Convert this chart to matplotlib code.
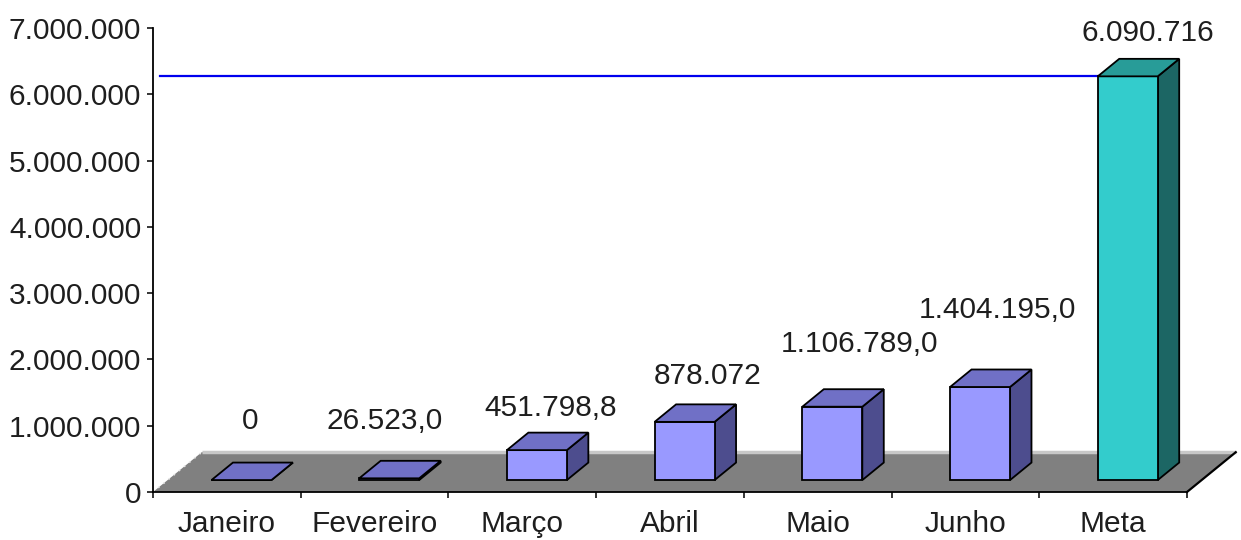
import numpy as np
import matplotlib.pyplot as plt
from matplotlib.patches import Polygon
from matplotlib.ticker import FuncFormatter, FixedLocator

plt.rcParams["font.family"] = ["Liberation Sans", "DejaVu Sans"]

months = ["Janeiro", "Fevereiro", "Março", "Abril", "Maio", "Junho", "Meta"]
values = [0, 26523.0, 451798.8, 878072, 1106789.0, 1404195.0, 6090716]
decimals = [0, 1, 1, 0, 1, 1, 0]

# per-label nudge of the value captions, in pixels (x, y)
label_nudge = [(-2, 42), (-15, 40), (3, 25), (12, 28), (16, 45), (7, 59), (9, 26)]

# fake-3D geometry: full floor depth expressed in axis units
DEPTH_X = 0.33
DEPTH_Y = 0.60e6
BAR_W = 0.406
BAR_D0, BAR_D1 = 0.30, 0.74

FACE = {"front": "#9999FF", "top": "#7070C6", "side": "#4D4D8E"}
META_FACE = {"front": "#33CCCC", "top": "#289C98", "side": "#1C6664"}
TEXT = "#1E1E1E"
FS = 21.5


def proj(x, d, v):
    return (x + d * DEPTH_X, v + d * DEPTH_Y)


def thousands(v, nd=0):
    s = f"{v:,.{nd}f}"
    return s.replace(",", "#").replace(".", ",").replace("#", ".")


def draw_bar(ax, i, v, colors):
    x0 = i - BAR_W / 2
    x1 = i + BAR_W / 2
    kw = dict(edgecolor="black", linewidth=1.3, joinstyle="miter", clip_on=False)
    front = [proj(x0, BAR_D0, 0), proj(x1, BAR_D0, 0), proj(x1, BAR_D0, v), proj(x0, BAR_D0, v)]
    side = [proj(x1, BAR_D0, 0), proj(x1, BAR_D1, 0), proj(x1, BAR_D1, v), proj(x1, BAR_D0, v)]
    top = [proj(x0, BAR_D0, v), proj(x1, BAR_D0, v), proj(x1, BAR_D1, v), proj(x0, BAR_D1, v)]
    ax.add_patch(Polygon(side, closed=True, facecolor=colors["side"], zorder=4, **kw))
    ax.add_patch(Polygon(front, closed=True, facecolor=colors["front"], zorder=5, **kw))
    ax.add_patch(Polygon(top, closed=True, facecolor=colors["top"], zorder=6, **kw))
    # caption anchor: horizontal middle of the whole block, at the top-back edge
    return (i + DEPTH_X * (BAR_D0 + BAR_D1) / 2, v + BAR_D1 * DEPTH_Y)


fig = plt.figure(figsize=(12.41, 5.40), dpi=100)
ax = fig.add_axes([153 / 1241, 48 / 540, 1034 / 1241, 464 / 540])
n = len(months)
ax.set_xlim(-0.5, n - 0.5)
ax.set_ylim(0, 7e6)

# floor
floor = [proj(-0.5, 0, 0), proj(n - 0.5, 0, 0), proj(n - 0.5, 1, 0), proj(-0.5, 1, 0)]
ax.add_patch(Polygon(floor, closed=True, facecolor="#808080", edgecolor="none",
                     zorder=1, clip_on=False))
bx, by = zip(proj(-0.5, 1, 0), proj(n - 0.5, 1, 0))
ax.plot(bx, by, color="#C8C8C8", lw=2.5, zorder=2, clip_on=False, solid_capstyle="butt")
lx, ly = zip(proj(-0.5, 0, 0), proj(-0.5, 1, 0))
ax.plot(lx, ly, color="#E6E6E6", lw=1.2, ls=(0, (1, 3)), zorder=2, clip_on=False)
rx, ry = zip(proj(n - 0.5, 0, 0), proj(n - 0.5, 1, 0))
ax.plot(rx, ry, color="black", lw=1.6, zorder=2, clip_on=False)

# target line running to the front-top corner of the last bar
meta_x, meta_y = proj(n - 1 - BAR_W / 2, BAR_D0, values[-1])
ax.plot([-0.45, meta_x], [meta_y, meta_y], color="#0000EE", lw=1.6, zorder=3)

for i, v in enumerate(values):
    colors = META_FACE if i == n - 1 else FACE
    axx, ayy = draw_bar(ax, i, v, colors)
    dx, dy = label_nudge[i]
    ax.annotate(thousands(v, decimals[i]), (axx, ayy), xytext=(dx, dy),
                textcoords="offset pixels", ha="center", va="center",
                fontsize=FS, color=TEXT, zorder=7, annotation_clip=False)

# axes styling
for side in ("top", "right"):
    ax.spines[side].set_visible(False)
for side in ("left", "bottom"):
    ax.spines[side].set_linewidth(1.3)
    ax.spines[side].set_zorder(8)

ax.yaxis.set_major_locator(FixedLocator(np.arange(0, 7.5e6, 1e6)))
ax.yaxis.set_major_formatter(FuncFormatter(lambda v, _: thousands(v)))
ax.tick_params(axis="y", direction="out", length=4.5, width=1.1, pad=4,
               labelsize=FS, labelcolor=TEXT)

ax.xaxis.set_major_locator(FixedLocator(np.arange(-0.5, n, 1.0)))
ax.xaxis.set_major_formatter(FuncFormatter(lambda v, _: ""))
ax.xaxis.set_minor_locator(FixedLocator(np.arange(n)))
ax.set_xticklabels(months, minor=True)
ax.tick_params(axis="x", which="major", direction="out", length=4.5, width=1.1)
ax.tick_params(axis="x", which="minor", length=0, pad=13, labelsize=FS,
               labelcolor=TEXT)

ax.patch.set_visible(False)
fig.savefig("out.png", dpi=100)
